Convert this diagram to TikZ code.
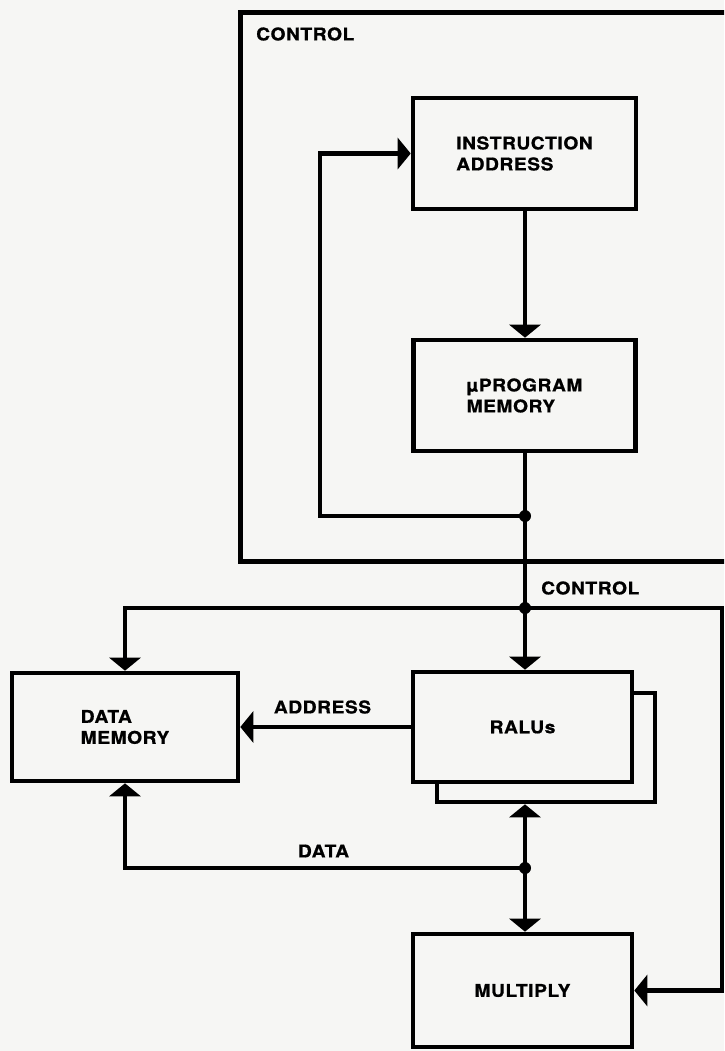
\documentclass[tikz,border=0pt]{standalone}
\usepackage{fontspec}
\newfontfamily\lbl{TeX Gyre Heros}[FakeStretch=1.1,LetterSpace=3,FakeBold=0.8]
\usetikzlibrary{arrows.meta}
\definecolor{paper}{RGB}{246,246,244}
\begin{document}
\begin{tikzpicture}[x=1pt,y=-1pt,
  every node/.style={font=\lbl\bfseries\fontsize{17.5}{21}\selectfont, inner sep=0pt},
  blk/.style={draw=black, line width=4.6pt, fill=paper, align=left},
  bus/.style={line width=4.6pt, line join=miter},
  arr/.style={bus, -{Triangle[width=31pt,length=13pt]}},
  dot/.style={fill=black}]
\fill[paper] (0,0) rectangle (724,1051);
\useasboundingbox (0,0) rectangle (724,1051);
\clip (0,0) rectangle (724,1051);
% control box
\node[draw=black, line width=4.6pt, minimum width=520pt, minimum height=549pt, anchor=north west] (ctrl) at (238,10) {};
\node[anchor=west] (ctrllbl) at (256,34) {CONTROL};
% blocks
\node[blk, minimum width=223pt, minimum height=111pt] (isa) at (524.5,153.5) {INSTRUCTION\\ADDRESS};
\node[blk, minimum width=222pt, minimum height=111pt] (upm) at (524.5,395.5) {\char"00B5PROGRAM\\MEMORY};
\node[blk, minimum width=226pt, minimum height=108pt] (dm) at (125,727) {DATA\\MEMORY};
\node[blk, minimum width=218pt, minimum height=109pt] (sh) at (546,747.5) {};
\node[blk, minimum width=219pt, minimum height=110pt] (ralu) at (522.5,727) {RALUs};
\node[blk, minimum width=219pt, minimum height=113pt] (mul) at (522.5,990.5) {MULTIPLY};
% junctions
\coordinate (j1) at (525,516);
\coordinate (j2) at (525,608);
\coordinate (j3) at (525,868);
\coordinate (bl) at (320,516);
\coordinate (br) at (722,608);
% connectors
\draw[arr] (j1 |- isa.south) -- (j1 |- upm.north);
\draw[bus] (j1 |- upm.south) -- (j2);
\draw[arr] (j2) -- (j2 |- ralu.north);
\draw[arr] (j1) -- (bl) |- (isa.west);
\draw[arr] (j2) -| (dm.north);
\draw[arr] (j2) -- (br) |- (mul.east);
\draw[arr] (ralu.west) -- (dm.east);
\draw[arr] (j3) -- (j3 |- sh.south);
\draw[arr] (j3) -- (j3 |- mul.north);
\draw[arr] (j3) -| (dm.south);
\fill[dot] (j1) circle (6pt);
\fill[dot] (j2) circle (6pt);
\fill[dot] (j3) circle (6pt);
% labels
\node (addrlbl) at (322.5,707) {ADDRESS};
\node[anchor=west] (buslbl) at (541,588) {CONTROL};
\node (datalbl) at (323.5,851) {DATA};
\end{tikzpicture}
\end{document}
